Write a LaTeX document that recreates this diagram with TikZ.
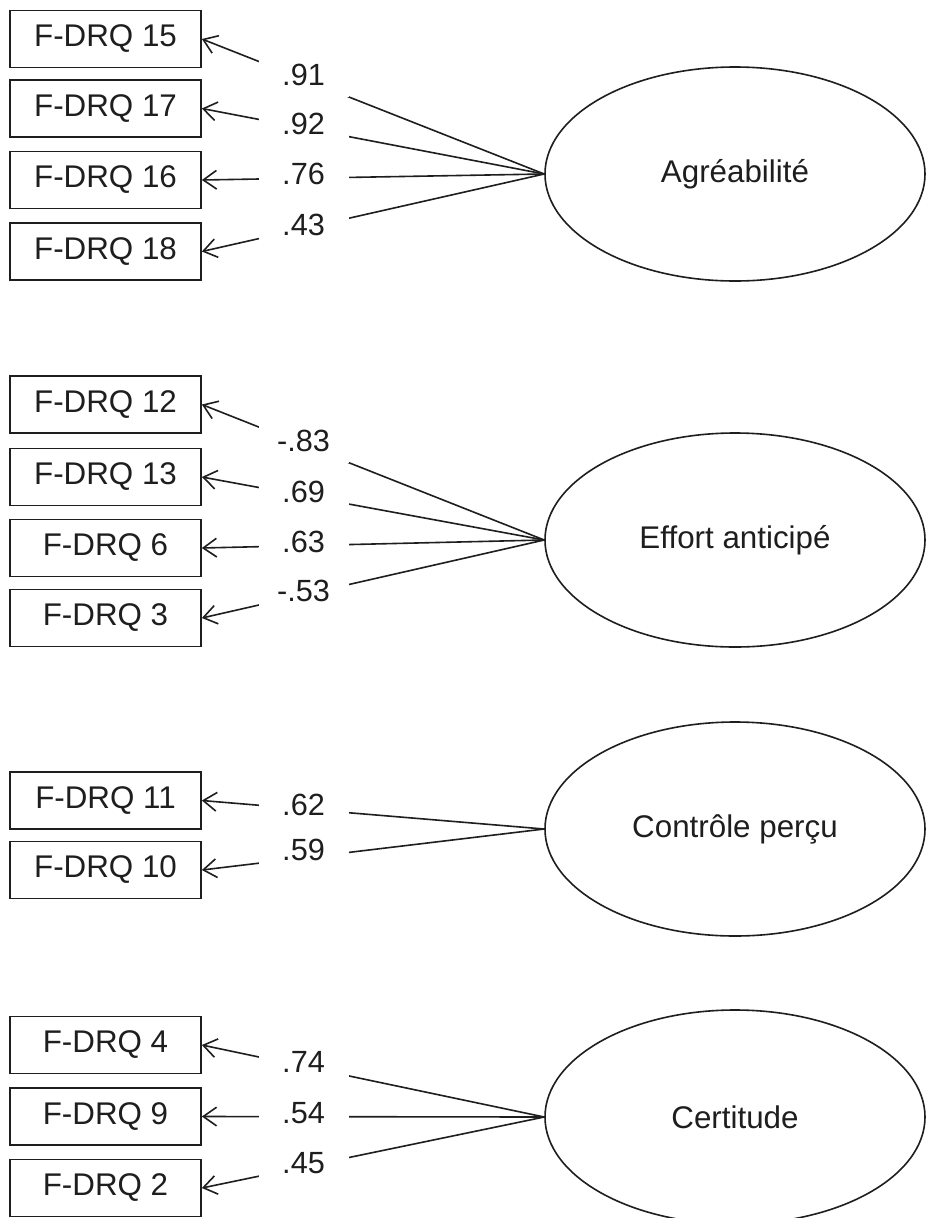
\documentclass[tikz,border=0pt]{standalone}
\usepackage{fontspec}
\setmainfont{Liberation Sans}
\usetikzlibrary{shapes.geometric,arrows.meta}
\definecolor{ink}{HTML}{1E1E1E}
\begin{document}
\begin{tikzpicture}[x=0.75pt,y=-0.75pt,
  obs/.style={draw=ink, line width=1.3pt, minimum width=143.25pt, minimum height=42.75pt, inner sep=0pt, font=\fontsize{23.5}{26}\selectfont, text=ink},
  lat/.style={ellipse, draw=ink, line width=1.2pt, minimum width=285pt, minimum height=160.5pt, inner sep=0pt, font=\fontsize{23.5}{26}\selectfont, text=ink},
  load/.style={draw=ink, line width=1.2pt, {Straight Barb[length=10pt,width=14pt,line width=1.2pt]}-},
  coef/.style={fill=white, inner sep=0pt, minimum width=67.5pt, minimum height=33pt, pos=0.297, yshift=3pt, font=\fontsize{23}{26}\selectfont, text=ink}]
\useasboundingbox (0,0) rectangle (926,1218);
\fill[white] (0,0) rectangle (926,1218);

% Agreabilite
\node[obs] (q15) at (105.5,39) {F-DRQ 15};
\node[obs] (q17) at (105.5,108.5) {F-DRQ 17};
\node[obs] (q16) at (105.5,180) {F-DRQ 16};
\node[obs] (q18) at (105.5,251.5) {F-DRQ 18};
\node[lat] (f1) at (735,174) {Agréabilité};
\draw[load] (q15.east) -- node[coef] {.91} (f1.west);
\draw[load] (q17.east) -- node[coef] {.92} (f1.west);
\draw[load] (q16.east) -- node[coef] {.76} (f1.west);
\draw[load] (q18.east) -- node[coef] {.43} (f1.west);

% Effort anticipe
\node[obs] (q12) at (105.5,404.5) {F-DRQ 12};
\node[obs] (q13) at (105.5,477) {F-DRQ 13};
\node[obs] (q6) at (105.5,548) {F-DRQ 6};
\node[obs] (q3) at (105.5,618) {F-DRQ 3};
\node[lat] (f2) at (735,540) {Effort anticipé};
\draw[load] (q12.east) -- node[coef] {-.83} (f2.west);
\draw[load] (q13.east) -- node[coef] {.69} (f2.west);
\draw[load] (q6.east) -- node[coef] {.63} (f2.west);
\draw[load] (q3.east) -- node[coef] {-.53} (f2.west);

% Controle percu
\node[obs] (q11) at (105.5,800.5) {F-DRQ 11};
\node[obs] (q10) at (105.5,870) {F-DRQ 10};
\node[lat] (f3) at (735,829) {Contrôle perçu};
\draw[load] (q11.east) -- node[coef] {.62} (f3.west);
\draw[load] (q10.east) -- node[coef, yshift=3pt] {.59} (f3.west);

% Certitude
\node[obs] (q4) at (105.5,1045) {F-DRQ 4};
\node[obs] (q9) at (105.5,1116.5) {F-DRQ 9};
\node[obs] (q2) at (105.5,1188) {F-DRQ 2};
\node[lat] (f4) at (735,1117) {Certitude};
\draw[load] (q4.east) -- node[coef] {.74} (f4.west);
\draw[load] (q9.east) -- node[coef] {.54} (f4.west);
\draw[load] (q2.east) -- node[coef] {.45} (f4.west);
\end{tikzpicture}
\end{document}
